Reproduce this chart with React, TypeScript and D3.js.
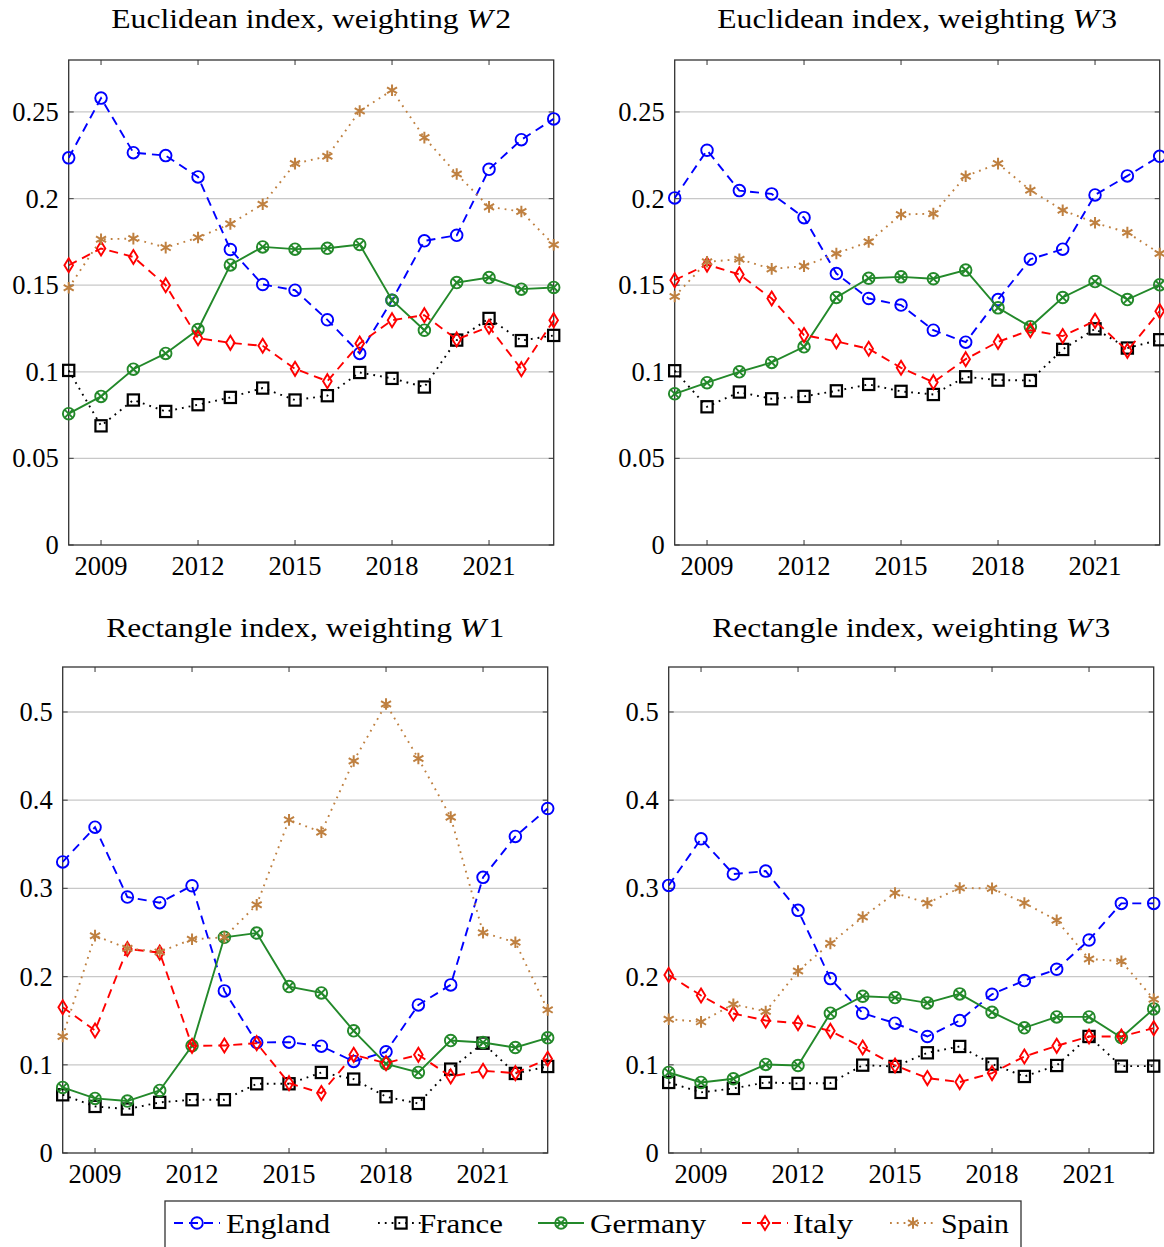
import React from "react";
import * as d3 from "d3";

const years = [2008, 2009, 2010, 2011, 2012, 2013, 2014, 2015, 2016, 2017, 2018, 2019, 2020, 2021, 2022, 2023];
const xTickYears = [2009, 2012, 2015, 2018, 2021];
const countries = ["England", "France", "Germany", "Italy", "Spain"];

// Euclidean index, weighting W2
const euW2England = [0.2235, 0.258, 0.2265, 0.2248, 0.2125, 0.1706, 0.1504, 0.1471, 0.130, 0.1106, 0.1413, 0.1756, 0.1788, 0.2169, 0.234, 0.246];
const euW2France = [0.1008, 0.0688, 0.0837, 0.0771, 0.081, 0.0852, 0.0906, 0.0837, 0.0862, 0.0996, 0.0962, 0.0912, 0.1183, 0.1308, 0.118, 0.121];
const euW2Germany = [0.0758, 0.0858, 0.1015, 0.1106, 0.1244, 0.1617, 0.1721, 0.1708, 0.1713, 0.1735, 0.1413, 0.124, 0.1515, 0.1544, 0.1477, 0.1487];
const euW2Italy = [0.1615, 0.1712, 0.1663, 0.150, 0.1194, 0.1167, 0.115, 0.1017, 0.0946, 0.1163, 0.1298, 0.1327, 0.1187, 0.126, 0.1015, 0.1298];
const euW2Spain = [0.1485, 0.1765, 0.1769, 0.1717, 0.1775, 0.1854, 0.1967, 0.2202, 0.2244, 0.2506, 0.2625, 0.2352, 0.2142, 0.1952, 0.1925, 0.1733];

// Euclidean index, weighting W3
const euW3England = [0.2004, 0.2279, 0.2046, 0.2027, 0.189, 0.1567, 0.1423, 0.1385, 0.124, 0.1171, 0.1417, 0.165, 0.1708, 0.2021, 0.2131, 0.2244];
const euW3France = [0.1006, 0.0798, 0.0883, 0.0844, 0.0858, 0.089, 0.0927, 0.0887, 0.0869, 0.0971, 0.0952, 0.095, 0.1129, 0.1248, 0.1137, 0.1185];
const euW3Germany = [0.0873, 0.0937, 0.1, 0.1054, 0.1144, 0.1429, 0.154, 0.1548, 0.1537, 0.1587, 0.1369, 0.126, 0.1429, 0.1521, 0.1417, 0.1502];
const euW3Italy = [0.1529, 0.1619, 0.1562, 0.1423, 0.1212, 0.1175, 0.1133, 0.1023, 0.094, 0.1073, 0.1173, 0.124, 0.1206, 0.1294, 0.1121, 0.135];
const euW3Spain = [0.1435, 0.1635, 0.165, 0.1594, 0.161, 0.1683, 0.175, 0.1908, 0.1913, 0.2129, 0.2202, 0.2048, 0.1933, 0.186, 0.1804, 0.1683];

// Rectangle index, weighting W1
const reW1England = [0.330, 0.3694, 0.2902, 0.2838, 0.303, 0.1838, 0.1253, 0.1257, 0.1211, 0.1038, 0.1147, 0.1679, 0.1906, 0.3125, 0.3589, 0.3906];
const reW1France = [0.066, 0.0528, 0.0498, 0.0574, 0.0604, 0.0604, 0.0785, 0.0785, 0.0913, 0.0838, 0.0638, 0.0562, 0.0951, 0.1245, 0.0902, 0.0981];
const reW1Germany = [0.0743, 0.0619, 0.0589, 0.0709, 0.1215, 0.2445, 0.2494, 0.1887, 0.1815, 0.1385, 0.1011, 0.0913, 0.1275, 0.1253, 0.1196, 0.1306];
const reW1Italy = [0.1653, 0.1389, 0.2313, 0.2272, 0.1215, 0.1219, 0.1245, 0.0792, 0.0679, 0.1113, 0.1019, 0.1113, 0.0868, 0.0932, 0.0906, 0.1068];
const reW1Spain = [0.1321, 0.2464, 0.232, 0.228, 0.2423, 0.2445, 0.2815, 0.3777, 0.3638, 0.4445, 0.509, 0.4472, 0.3808, 0.2498, 0.2389, 0.1623];

// Rectangle index, weighting W3
const reW3England = [0.3034, 0.3562, 0.3162, 0.3196, 0.2751, 0.1977, 0.1585, 0.1472, 0.1321, 0.1502, 0.18, 0.1955, 0.2083, 0.2415, 0.283, 0.283];
const reW3France = [0.08, 0.0687, 0.0732, 0.08, 0.0789, 0.0792, 0.0996, 0.0981, 0.1136, 0.1208, 0.1008, 0.0868, 0.0992, 0.1321, 0.0985, 0.0985];
const reW3Germany = [0.0913, 0.08, 0.0842, 0.1004, 0.0992, 0.1585, 0.1777, 0.1762, 0.1702, 0.1804, 0.1596, 0.1419, 0.1543, 0.1543, 0.1309, 0.1634];
const reW3Italy = [0.2019, 0.1785, 0.1581, 0.1502, 0.1472, 0.1385, 0.1196, 0.0992, 0.0849, 0.0804, 0.0906, 0.1094, 0.1215, 0.1321, 0.1321, 0.1415];
const reW3Spain = [0.1517, 0.1487, 0.1687, 0.1604, 0.2064, 0.2377, 0.2675, 0.2947, 0.2834, 0.3004, 0.30, 0.2834, 0.2638, 0.22, 0.2174, 0.1743];

const euTicks = [0, 0.05, 0.1, 0.15, 0.2, 0.25];
const reTicks = [0, 0.1, 0.2, 0.3, 0.4, 0.5];

const FONT = "Liberation Serif, serif";
const colors = {
  England: "#0000ff",
  France: "#000000",
  Germany: "#23892a",
  Italy: "#ff0000",
  Spain: "#bf8040",
};
const dashes = {
  England: "9,6",
  France: "1.8,5",
  Germany: "none",
  Italy: "9,6",
  Spain: "1.8,5",
};

const panels = [
  { title: "Euclidean index, weighting ", w: "W", n: "2", x0: 68.7, x1: 553.7, y0: 545, y1: 60, ymax: 0.28, ticks: euTicks, titleY: 28, data: [euW2England, euW2France, euW2Germany, euW2Italy, euW2Spain], tl: 400 },
  { title: "Euclidean index, weighting ", w: "W", n: "3", x0: 674.7, x1: 1159.7, y0: 545, y1: 60, ymax: 0.28, ticks: euTicks, titleY: 28, data: [euW3England, euW3France, euW3Germany, euW3Italy, euW3Spain], tl: 400 },
  { title: "Rectangle index, weighting ", w: "W", n: "1", x0: 62.7, x1: 547.7, y0: 1153, y1: 667, ymax: 0.551, ticks: reTicks, titleY: 637, data: [reW1England, reW1France, reW1Germany, reW1Italy, reW1Spain], tl: 398 },
  { title: "Rectangle index, weighting ", w: "W", n: "3", x0: 668.7, x1: 1153.7, y0: 1153, y1: 667, ymax: 0.551, ticks: reTicks, titleY: 637, data: [reW3England, reW3France, reW3Germany, reW3Italy, reW3Spain], tl: 398 },
];

function Marker({ kind, x, y }: { kind: string; x: number; y: number }) {
  const c = (colors as any)[kind];
  const sw = 1.9;
  if (kind === "England") return <circle cx={x} cy={y} r={5.8} fill="none" stroke={c} strokeWidth={sw} />;
  if (kind === "France") return <rect x={x - 5.6} y={y - 5.6} width={11.2} height={11.2} fill="none" stroke={c} strokeWidth={2.2} />;
  if (kind === "Germany") {
    const d = 5.8 * Math.SQRT1_2;
    return (
      <g stroke={c} strokeWidth={sw} fill="none">
        <circle cx={x} cy={y} r={5.8} />
        <line x1={x - d} y1={y - d} x2={x + d} y2={y + d} />
        <line x1={x - d} y1={y + d} x2={x + d} y2={y - d} />
      </g>
    );
  }
  if (kind === "Italy") {
    return <path d={`M${x},${y - 7}L${x + 4.3},${y}L${x},${y + 7}L${x - 4.3},${y}Z`} fill="none" stroke={c} strokeWidth={sw} />;
  }
  const r = 5.8;
  const arms = [90, 30, -30].map((a) => {
    const t = (a * Math.PI) / 180;
    return `M${x - r * Math.cos(t)},${y + r * Math.sin(t)}L${x + r * Math.cos(t)},${y - r * Math.sin(t)}`;
  });
  return <path d={arms.join("")} stroke={c} strokeWidth={2} fill="none" />;
}

function Panel({ p }: { p: any }) {
  const x = d3.scaleLinear().domain([2008, 2023]).range([p.x0, p.x1]);
  const y = d3.scaleLinear().domain([0, p.ymax]).range([p.y0, p.y1]);
  const line = d3
    .line<number>()
    .x((_, i) => x(years[i]))
    .y((v) => y(v));
  const fmt = (v: number) => (v === 0 ? "0" : String(+v.toFixed(2)));
  const cx = (p.x0 + p.x1) / 2;
  return (
    <g>
      <text x={cx} y={p.titleY} textAnchor="middle" style={{ fontFamily: FONT }} fontSize={27} textLength={p.tl} lengthAdjust="spacingAndGlyphs" fill="#000">
        {p.title}
        <tspan fontStyle="italic">{p.w}</tspan>
        <tspan dx={2}>{p.n}</tspan>
      </text>
      {p.ticks.map((t: number) => (
        <g key={t}>
          {t > 0 && <line x1={p.x0} x2={p.x1} y1={y(t)} y2={y(t)} stroke="#c8c8c8" strokeWidth={1.3} />}
          <line x1={p.x0} x2={p.x0 + 5} y1={y(t)} y2={y(t)} stroke="#555" strokeWidth={1.2} />
          <line x1={p.x1 - 5} x2={p.x1} y1={y(t)} y2={y(t)} stroke="#555" strokeWidth={1.2} />
          <text x={p.x0 - 10} y={y(t) + 9} textAnchor="end" style={{ fontFamily: FONT }} fontSize={26.5} fill="#000">
            {fmt(t)}
          </text>
        </g>
      ))}
      {xTickYears.map((yr) => (
        <g key={yr}>
          <line x1={x(yr)} x2={x(yr)} y1={p.y0} y2={p.y0 - 5} stroke="#555" strokeWidth={1.2} />
          <line x1={x(yr)} x2={x(yr)} y1={p.y1} y2={p.y1 + 5} stroke="#555" strokeWidth={1.2} />
          <text x={x(yr)} y={p.y0 + 30} textAnchor="middle" style={{ fontFamily: FONT }} fontSize={26.5} fill="#000">
            {yr}
          </text>
        </g>
      ))}
      <rect x={p.x0} y={p.y1} width={p.x1 - p.x0} height={p.y0 - p.y1} fill="none" stroke="#333" strokeWidth={1.3} />
      {countries.map((c, ci) => (
        <g key={c}>
          <path d={line(p.data[ci]) || ""} fill="none" stroke={(colors as any)[c]} strokeWidth={1.9} strokeDasharray={(dashes as any)[c]} />
          {p.data[ci].map((v: number, i: number) => (
            <Marker key={i} kind={c} x={x(years[i])} y={y(v)} />
          ))}
        </g>
      ))}
    </g>
  );
}

const legendX = [174, 378, 538, 742, 890];
const legendTextX = [226, 419, 590, 793, 941];
const legendTL = [104, 84, 116, 60, 68];

export default function App() {
  return (
    <svg width={1164} height={1247} style={{ position: "absolute", left: 0, top: 0, background: "#fff" }}>
      <rect x={0} y={0} width={1164} height={1247} fill="#fff" />
      {panels.map((p, i) => (
        <Panel key={i} p={p} />
      ))}
      <rect x={165} y={1201} width={856} height={60} fill="#fff" stroke="#333" strokeWidth={1.3} />
      {countries.map((c, i) => (
        <g key={c}>
          <line x1={legendX[i]} x2={legendX[i] + 46} y1={1223} y2={1223} stroke={(colors as any)[c]} strokeWidth={1.9} strokeDasharray={(dashes as any)[c]} />
          <Marker kind={c} x={legendX[i] + 23} y={1223} />
          <text x={legendTextX[i]} y={1233} style={{ fontFamily: FONT }} fontSize={28} textLength={legendTL[i]} lengthAdjust="spacingAndGlyphs" fill="#000">
            {c}
          </text>
        </g>
      ))}
    </svg>
  );
}
